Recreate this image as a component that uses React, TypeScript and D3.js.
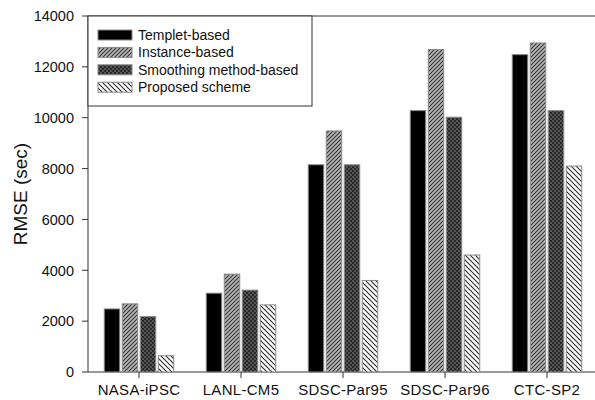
import React from "react";
import * as d3 from "d3";

const categories = ["NASA-iPSC", "LANL-CM5", "SDSC-Par95", "SDSC-Par96", "CTC-SP2"];
const seriesNames = ["Templet-based", "Instance-based", "Smoothing method-based", "Proposed scheme"];
const templetValues = [2480, 3100, 8150, 10280, 12480];
const instanceValues = [2680, 3850, 9480, 12680, 12940];
const smoothingValues = [2180, 3220, 8150, 10020, 10280];
const proposedValues = [640, 2640, 3600, 4600, 8100];
const yTicks = [0, 2000, 4000, 6000, 8000, 10000, 12000, 14000];

const seriesValues = [templetValues, instanceValues, smoothingValues, proposedValues];
const fills = ["#000", "url(#patInst)", "url(#patSmooth)", "url(#patProp)"];

const W = 595, H = 400;
const left = 88, right = 598, top = 16, bottom = 372;
const font = "'Liberation Sans', Arial, sans-serif";

export default function App() {
  const x0 = d3.scaleBand<string>().domain(categories).range([left, right]).padding(0);
  const x1 = d3.scaleBand<number>().domain([0, 1, 2, 3]).range([-36, 36]).paddingInner(0.14).paddingOuter(0.07);
  const y = d3.scaleLinear().domain([0, 14000]).range([bottom, top]);

  const legendRows = seriesNames.map((n, i) => ({ n, i }));

  return (
    <svg width={W} height={H} style={{ position: "absolute", left: 0, top: 0, background: "#fff" }} fontFamily={font}>
      <defs>
        <pattern id="patInst" patternUnits="userSpaceOnUse" width="4" height="4">
          <rect width="4" height="4" fill="#b8b8b8" />
          <path d="M-1,1 L1,-1 M0,4 L4,0 M3,5 L5,3" stroke="#333" strokeWidth="1.1" />
        </pattern>
        <pattern id="patSmooth" patternUnits="userSpaceOnUse" width="4" height="4">
          <rect width="4" height="4" fill="#2a2a2a" />
          <rect x="0" y="0" width="2" height="2" fill="#555" />
          <rect x="2" y="2" width="2" height="2" fill="#555" />
        </pattern>
        <pattern id="patProp" patternUnits="userSpaceOnUse" width="5" height="5">
          <rect width="5" height="5" fill="#fff" />
          <path d="M0,0 L5,5 M-1,4 L1,6 M4,-1 L6,1" stroke="#333" strokeWidth="1.2" />
        </pattern>
      </defs>

      {/* frame */}
      <line x1={left} x2={W} y1={top} y2={top} stroke="#333" strokeWidth={1} />
      <line x1={left} x2={left} y1={top} y2={bottom} stroke="#333" strokeWidth={1} />
      <line x1={left} x2={W} y1={bottom} y2={bottom} stroke="#333" strokeWidth={1} />

      {/* bars */}
      {categories.map((c, ci) => (
        <g key={c}>
          {seriesValues.map((vals, si) => {
            const cx = (x0(c) as number) + x0.bandwidth() / 2;
            const bx = cx + (x1(si) as number);
            return (
              <rect
                key={si}
                x={bx}
                y={y(vals[ci])}
                width={x1.bandwidth()}
                height={bottom - y(vals[ci])}
                fill={fills[si]}
                stroke="#8a8a8a"
                strokeWidth={1}
              />
            );
          })}
        </g>
      ))}

      {/* y axis ticks */}
      {yTicks.map((t) => (
        <g key={t}>
          <line x1={left - 6} x2={left} y1={y(t)} y2={y(t)} stroke="#333" />
          <text x={left - 14} y={y(t)} dy="0.36em" textAnchor="end" fontSize={14.5} fill="#111">
            {t}
          </text>
        </g>
      ))}

      {/* x axis ticks */}
      {categories.map((c) => {
        const cx = (x0(c) as number) + x0.bandwidth() / 2;
        return (
          <g key={c}>
            <line x1={cx} x2={cx} y1={bottom} y2={bottom + 6} stroke="#333" />
            <text x={cx} y={395} textAnchor="middle" fontSize={15} fill="#111" letterSpacing="0.3">
              {c}
            </text>
          </g>
        );
      })}

      {/* y label */}
      <text transform={`translate(27,${(top + bottom) / 2}) rotate(-90)`} textAnchor="middle" fontSize={19} fill="#111">
        RMSE (sec)
      </text>

      {/* legend */}
      <rect x={left} y={top} width={224} height={90} fill="#fff" stroke="#333" strokeWidth={1} />
      {legendRows.map(({ n, i }) => {
        const ry = 35 + i * 17.4;
        return (
          <g key={n}>
            <rect x={98} y={ry - 5} width={34} height={10} fill={fills[i]} stroke="#8a8a8a" strokeWidth={1} />
            <text x={138} y={ry} dy="0.36em" fontSize={14} fill="#111">
              {n}
            </text>
          </g>
        );
      })}
    </svg>
  );
}
